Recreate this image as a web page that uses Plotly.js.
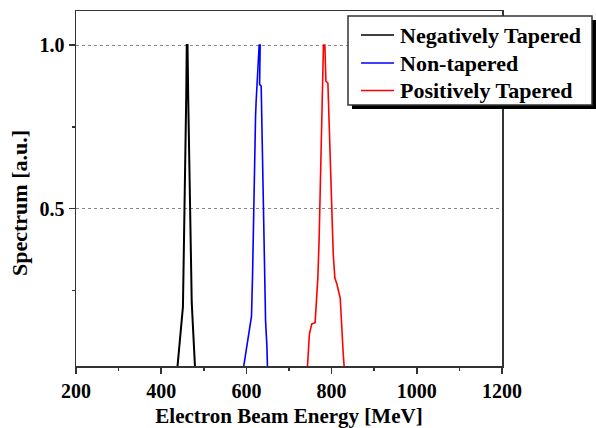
<!DOCTYPE html>
<html>
<head>
<meta charset="utf-8">
<script src="https://cdn.plot.ly/plotly-3.0.1.min.js"></script>
<style>html,body{margin:0;padding:0;background:#fff;}#chart{width:596px;height:428px;}</style>
</head>
<body>
<div id="chart"></div>
<script>
// Negatively tapered
const negX = [437, 444, 451, 453, 455.4, 457, 458.7, 460, 461.8, 463.4, 465.8, 467, 469.6, 471.7, 475, 480];
const negY = [0, 0.106, 0.2, 0.362, 0.518, 0.676, 0.839, 1.0, 1.0, 0.839, 0.676, 0.518, 0.37, 0.213, 0.127, 0];
// Non-tapered
const nonX = [591.5, 612, 614.4, 615.8, 618.2, 619.8, 621.5, 622.9, 624.5, 627.6, 630, 632.3, 631, 634.7, 636.3, 638, 639.4, 641, 642.7, 645, 648.1, 649.8];
const nonY = [0, 0.172, 0.294, 0.417, 0.539, 0.667, 0.783, 0.829, 0.875, 0.951, 1.0, 1.0, 0.88, 0.875, 0.759, 0.637, 0.514, 0.386, 0.264, 0.157, 0.081, 0];
// Positively tapered
const posX = [728, 742.5, 747.9, 753.5, 761.3, 764.4, 767.7, 770.8, 773.1, 777.1, 779.5, 780.9, 784.2, 786.6, 791.3, 794.5, 798.4, 801.4, 803.8, 807.7, 812.4, 820.2, 823.5, 827.3, 830.5];
const posY = [0, 0, 0.117, 0.148, 0.152, 0.209, 0.288, 0.411, 0.563, 0.768, 0.881, 1.0, 1.0, 0.89, 0.884, 0.746, 0.621, 0.502, 0.362, 0.288, 0.27, 0.227, 0.135, 0.056, 0];

const names = ['Negatively Tapered', 'Non-tapered', 'Positively Tapered'];
const colors = ['#000000', '#0000ff', '#ff0000'];
const xTicks = [200, 400, 600, 800, 1000, 1200];
const yTicks = [0.5, 1.0];
const yTickText = ['0.5', '1.0'];

const F = 'Liberation Serif, Times New Roman, serif';
const series = [[negX, negY], [nonX, nonY], [posX, posY]];
const traces = series.map((s, i) => ({
  x: s[0], y: s[1], type: 'scatter', mode: 'lines', name: names[i],
  line: {color: colors[i], width: i === 0 ? 2 : 1.6}
}));

// plot area in pixels: left 76, right 502, top 11, bottom 366
const px2x = p => (p - 76) / 426, px2y = p => (366 - p) / 355;

// hand-drawn legend box (matching the reference's boxed legend with drop shadow)
const legRows = [35, 63, 90.5];
const shapes = [
  {type: 'rect', xref: 'paper', yref: 'paper', x0: px2x(352), x1: px2x(597), y0: px2y(20), y1: px2y(109),
   fillcolor: '#000', line: {width: 0}, layer: 'above'},
  {type: 'rect', xref: 'paper', yref: 'paper', x0: px2x(348), x1: px2x(592), y0: px2y(16), y1: px2y(105),
   fillcolor: '#fff', line: {color: '#333', width: 1.5}, layer: 'above'}
];
const annotations = [];
names.forEach((n, i) => {
  shapes.push({type: 'line', xref: 'paper', yref: 'paper', x0: px2x(361), x1: px2x(394), y0: px2y(legRows[i]), y1: px2y(legRows[i]),
    line: {color: colors[i], width: 1.6}, layer: 'above'});
  annotations.push({xref: 'paper', yref: 'paper', x: px2x(398), y: px2y(legRows[i]), xanchor: 'left', yanchor: 'middle',
    text: n, showarrow: false, font: {family: F, size: 22, color: '#000', weight: 'bold'}});
});
annotations.push({xref: 'paper', yref: 'paper', x: px2x(20), y: px2y(203), xanchor: 'center', yanchor: 'middle',
  text: 'Spectrum [a.u.]', textangle: -90, showarrow: false, font: {family: F, size: 22, color: '#000', weight: 'bold'}});

const layout = {
  width: 596, height: 428,
  margin: {l: 76, r: 94, t: 11, b: 62},
  paper_bgcolor: '#fff', plot_bgcolor: '#fff',
  showlegend: false,
  xaxis: {
    range: [200, 1200], tickmode: 'array', tickvals: xTicks, ticktext: xTicks.map(String),
    ticks: 'outside', ticklen: 6, tickwidth: 1.5, tickcolor: '#333',
    showline: true, linecolor: '#333', linewidth: 1.5, mirror: true,
    showgrid: false, zeroline: false,
    minor: {dtick: 100, tick0: 200, ticks: 'outside', ticklen: 3, tickwidth: 1.5, tickcolor: '#333', showgrid: false},
    tickfont: {family: F, size: 20, color: '#000', weight: 'bold'},
    title: {text: 'Electron Beam Energy [MeV]', font: {family: F, size: 21, color: '#000', weight: 'bold'}, standoff: 10}
  },
  yaxis: {
    range: [0.0195, 1.104], tickmode: 'array', tickvals: yTicks, ticktext: yTickText,
    ticks: 'outside', ticklen: 6, tickwidth: 1.5, tickcolor: '#333',
    showline: true, linecolor: '#333', linewidth: 1.5, mirror: true,
    showgrid: true, gridcolor: '#888', griddash: 'dot', gridwidth: 1, zeroline: false,
    minor: {tickmode: 'array', tickvals: [0.25, 0.75], ticks: 'outside', ticklen: 3, tickwidth: 1.5, tickcolor: '#333', showgrid: false},
    tickfont: {family: F, size: 20, color: '#000', weight: 'bold'}
  },
  shapes: shapes,
  annotations: annotations
};

Plotly.newPlot('chart', traces, layout, {displayModeBar: false, staticPlot: true});
</script>
</body>
</html>
